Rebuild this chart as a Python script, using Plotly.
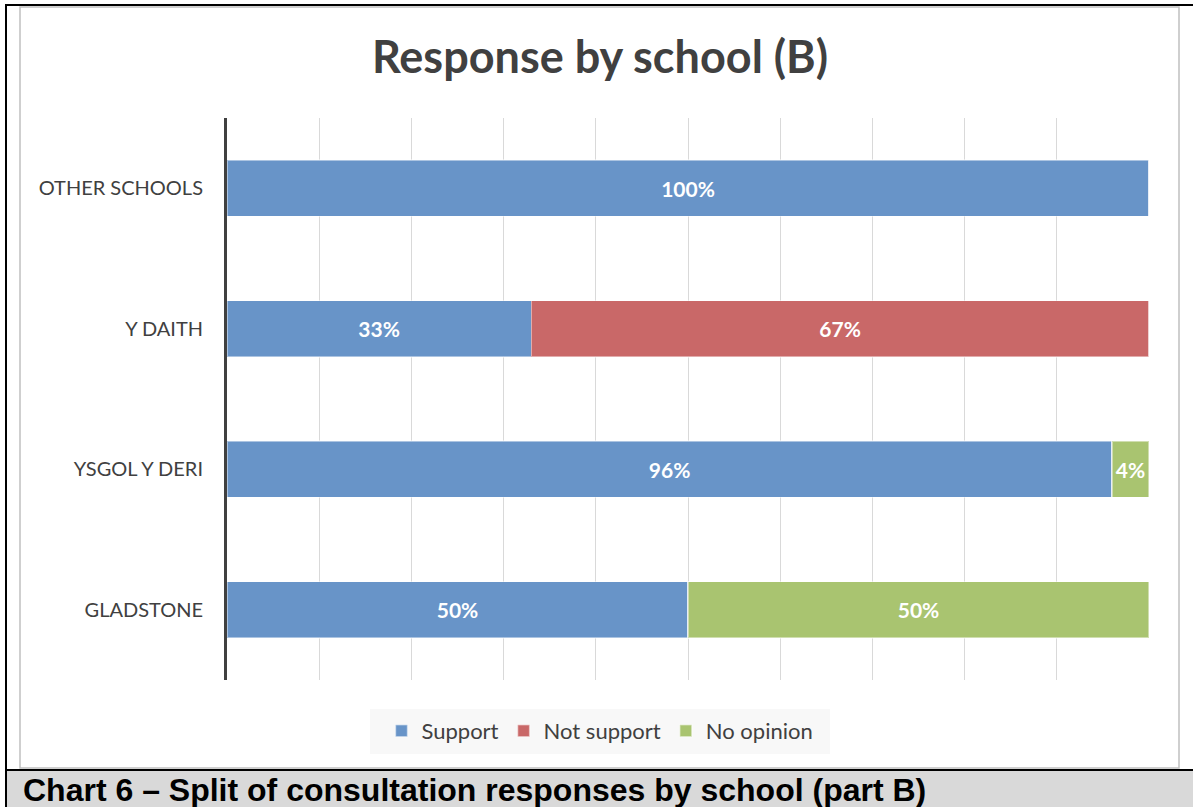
import plotly.graph_objects as go

categories = ["GLADSTONE", "YSGOL Y DERI", "Y DAITH", "OTHER SCHOOLS"]
support = [50, 96, 33, 100]
not_support = [0, 0, 67, 0]
no_opinion = [50, 4, 0, 0]
series_names = ["Support", "Not support", "No opinion"]
colors = ["#6894c8", "#c96868", "#a9c470"]

W, H = 1193, 807
def px(x):
    return x / W
def py(y):
    return 1 - y / H

FONT = "Lato"
fig = go.Figure()
for name, vals, col in zip(series_names, [support, not_support, no_opinion], colors):
    fig.add_trace(go.Bar(
        y=categories, x=vals, name=name, orientation="h",
        marker=dict(color=col, line=dict(color="rgba(255,255,255,0.45)", width=1.5)),
        text=[f"{v}%" if v else "" for v in vals],
        textposition="inside", insidetextanchor="middle",
        textfont=dict(family=FONT, size=21, color="white", weight="bold"),
        hoverinfo="skip",
    ))

shapes = [
    # outer black border
    dict(type="rect", xref="paper", yref="paper", x0=px(6), x1=px(1200), y0=py(820), y1=py(5),
         line=dict(color="black", width=2), fillcolor="rgba(0,0,0,0)", layer="below"),
    # caption band
    dict(type="rect", xref="paper", yref="paper", x0=px(7), x1=px(1200), y0=py(810), y1=py(770),
         line=dict(width=0), fillcolor="#d9d9d9", layer="below"),
    dict(type="line", xref="paper", yref="paper", x0=px(6), x1=px(1200), y0=py(770), y1=py(770),
         line=dict(color="black", width=2)),
    # chart frame
    dict(type="rect", xref="paper", yref="paper", x0=px(20), x1=px(1179), y0=py(768), y1=py(7),
         line=dict(color="#c0c0c0", width=1.5), fillcolor="white", layer="below"),
    # legend background
    dict(type="rect", xref="paper", yref="paper", x0=px(370), x1=px(830), y0=py(754), y1=py(709),
         line=dict(width=0), fillcolor="#f8f8f8", layer="below"),
]

fig.update_layout(
    width=W, height=H,
    margin=dict(l=0, r=0, t=0, b=0),
    paper_bgcolor="white", plot_bgcolor="white",
    barmode="stack", bargap=0.6,
    showlegend=True,
    legend=dict(orientation="h", x=px(600), xanchor="center", y=py(731), yanchor="middle",
                bgcolor="rgba(0,0,0,0)", font=dict(family=FONT, size=22, color="#404040"),
                traceorder="normal", itemclick=False, itemwidth=30),
    title=dict(text="<b>Response by school (B)</b>", x=px(600), xanchor="center",
               y=py(57), yanchor="middle",
               font=dict(family=FONT, size=45, color="#404040")),
    xaxis=dict(domain=[px(227), px(1149)], range=[0, 100], dtick=10, showticklabels=False,
               showgrid=True, gridcolor="#d9d9d9", gridwidth=1, zeroline=False, fixedrange=True),
    yaxis=dict(domain=[py(680), py(118)], categoryorder="array", categoryarray=categories,
               showline=True, linecolor="#404040", linewidth=3, ticks="", ticklen=0,
               tickfont=dict(family=FONT, size=20, color="#404040"), automargin=False,
               ticklabelstandoff=17, fixedrange=True),
    shapes=shapes,
    annotations=[dict(text="<b>Chart 6 – Split of consultation responses by school (part B)</b>",
                      xref="paper", yref="paper", x=px(21), y=py(790), xanchor="left", yanchor="middle",
                      showarrow=False, font=dict(family="Liberation Sans", size=32, color="black"))],
)

fig.write_html("out.html", config={"displayModeBar": False},
               post_script="document.body.style.margin='0';document.body.style.overflow='hidden';")
